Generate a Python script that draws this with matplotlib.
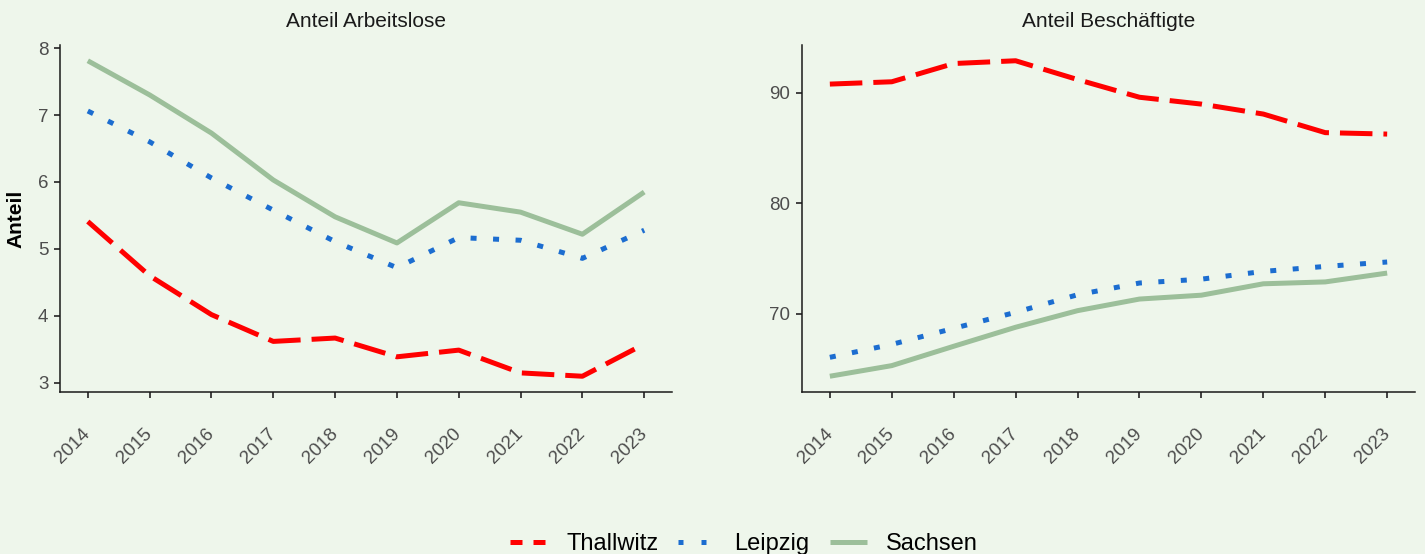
"""Anteil Arbeitslose / Beschäftigte: Thallwitz vs. Leipzig vs. Sachsen, 2014-2023."""

import matplotlib.pyplot as plt
import matplotlib.transforms as mtransforms
from matplotlib.lines import Line2D

YEARS = [2014, 2015, 2016, 2017, 2018, 2019, 2020, 2021, 2022, 2023]

ARBEITSLOSE_THALLWITZ = [5.41, 4.60, 4.02, 3.62, 3.67, 3.39, 3.49, 3.15, 3.10, 3.58]
ARBEITSLOSE_LEIPZIG = [7.06, 6.60, 6.06, 5.58, 5.11, 4.72, 5.17, 5.13, 4.86, 5.28]
ARBEITSLOSE_SACHSEN = [7.81, 7.30, 6.73, 6.03, 5.48, 5.09, 5.69, 5.55, 5.22, 5.85]

BESCHAEFTIGTE_THALLWITZ = [90.79, 91.00, 92.65, 92.90, 91.20, 89.60, 88.98, 88.08, 86.40, 86.27]
BESCHAEFTIGTE_LEIPZIG = [66.08, 67.25, 68.70, 70.15, 71.74, 72.80, 73.15, 73.85, 74.30, 74.70]
BESCHAEFTIGTE_SACHSEN = [64.37, 65.33, 67.08, 68.80, 70.30, 71.35, 71.70, 72.73, 72.90, 73.70]

REGIONS = ['Thallwitz', 'Leipzig', 'Sachsen']
COLORS = {'Thallwitz': '#FF0000', 'Leipzig': '#1C6DD0', 'Sachsen': '#9CBF9A'}
DASHES = {'Thallwitz': (6.5, 2.2), 'Leipzig': (1.2, 3.3), 'Sachsen': None}
LEGEND_DASHES = {'Thallwitz': (2.4, 2.2), 'Leipzig': (1.0, 3.6), 'Sachsen': None}

BG = '#EEF6EB'
LW = 3.6

plt.rcParams['font.family'] = ['Liberation Sans', 'DejaVu Sans']


def draw_panel(fig, ax, title, series):
    for region, values in zip(REGIONS, series):
        line, = ax.plot(YEARS, values, color=COLORS[region], lw=LW,
                        solid_capstyle='butt', dash_capstyle='butt')
        if DASHES[region] is not None:
            line.set_dashes(DASHES[region])
    ax.set_facecolor(BG)
    ax.set_title(title, fontsize=15, pad=13, color='#1A1A1A')
    ax.set_xticks(YEARS)
    ax.set_xticklabels([str(y) for y in YEARS], rotation=45, ha='right', va='center',
                       rotation_mode='anchor')
    # nudge rotated labels a bit to the right, like the original
    shift = mtransforms.ScaledTranslation(3 / 100, 0, fig.dpi_scale_trans)
    for lbl in ax.get_xticklabels():
        lbl.set_transform(lbl.get_transform() + shift)
    ax.spines[['top', 'right']].set_visible(False)
    for s in ('left', 'bottom'):
        ax.spines[s].set_color('#1A1A1A')
        ax.spines[s].set_linewidth(1.1)
    ax.tick_params(axis='both', colors='#333333', labelcolor='#4D4D4D',
                   labelsize=13.5, length=4.3, width=1.3)
    ax.tick_params(axis='x', pad=24)
    ax.tick_params(axis='y', pad=4)
    ax.margins(x=0.05, y=0.05)


fig = plt.figure(figsize=(14.25, 5.54), dpi=100, facecolor=BG)
ax1 = fig.add_axes([0.0421, 0.2924, 0.4295, 0.6264])
ax2 = fig.add_axes([0.5628, 0.2924, 0.4302, 0.6264])

draw_panel(fig, ax1, 'Anteil Arbeitslose',
           [ARBEITSLOSE_THALLWITZ, ARBEITSLOSE_LEIPZIG, ARBEITSLOSE_SACHSEN])
draw_panel(fig, ax2, 'Anteil Beschäftigte',
           [BESCHAEFTIGTE_THALLWITZ, BESCHAEFTIGTE_LEIPZIG, BESCHAEFTIGTE_SACHSEN])

ax1.set_yticks([3, 4, 5, 6, 7, 8])
ax2.set_yticks([70, 80, 90])
ax1.set_ylabel('Anteil', fontsize=15, fontweight='bold', color='black')
ax1.yaxis.set_label_coords(-0.057, 0.5)

handles = []
for region in REGIONS:
    h = Line2D([], [], color=COLORS[region], lw=LW, solid_capstyle='butt',
               dash_capstyle='butt')
    if LEGEND_DASHES[region] is not None:
        h.set_dashes(LEGEND_DASHES[region])
    handles.append(h)

fig.legend(handles, REGIONS, loc='center', bbox_to_anchor=(0.522, 0.018), ncol=3,
           frameon=False, fontsize=17, handlelength=1.57, handletextpad=0.8,
           columnspacing=0.85, borderaxespad=0)

fig.savefig('out.png', dpi=100, facecolor=BG)
